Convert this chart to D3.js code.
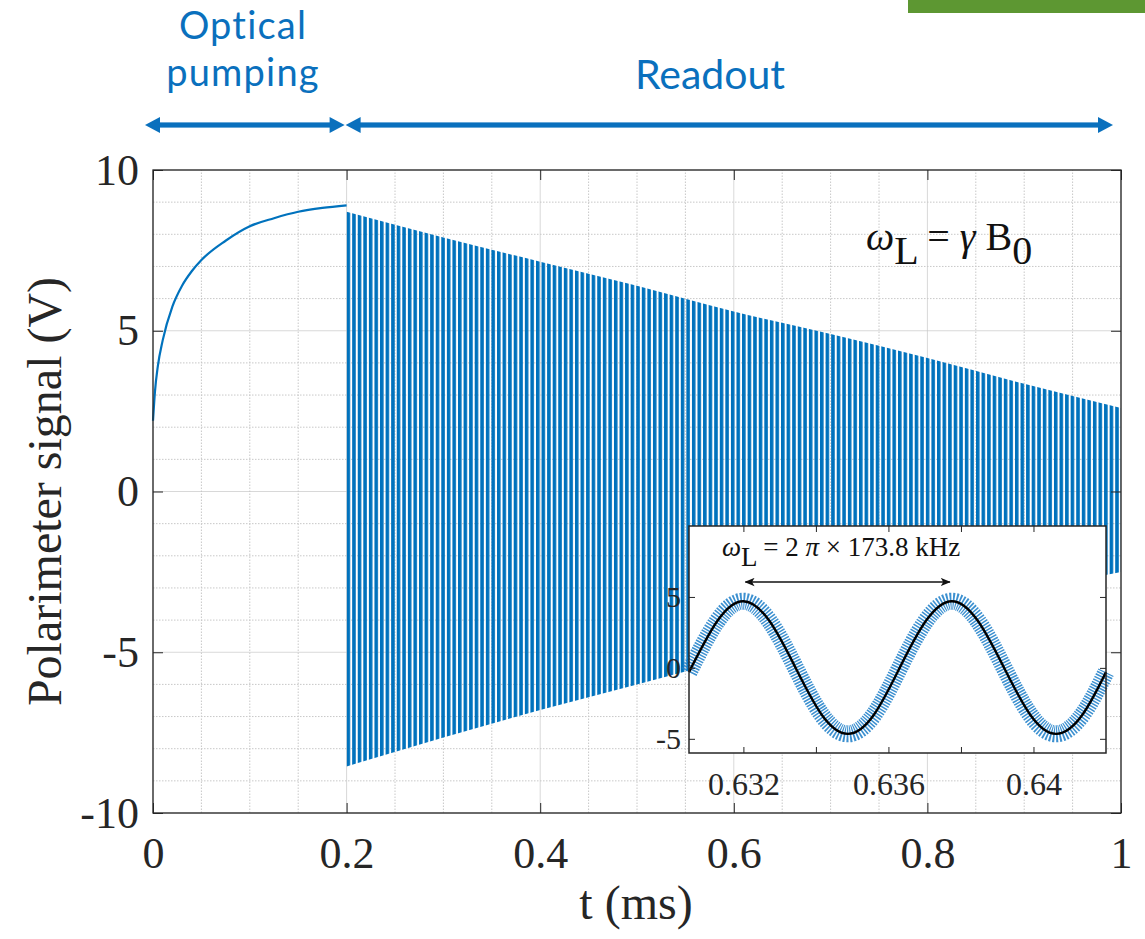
<!DOCTYPE html>
<html>
<head>
<meta charset="utf-8">
<script src="https://cdn.jsdelivr.net/npm/d3@7"></script>
<style>
  body { margin: 0; background: #fff; }
  svg { display: block; }
</style>
</head>
<body>
<div id="chart"></div>
<script>
// pumping phase
var pumpT = [0, 0.002, 0.005, 0.01, 0.02, 0.03, 0.04, 0.05, 0.075, 0.1, 0.125, 0.15, 0.175, 0.2];
var pumpV = [2.2, 3.1, 3.9, 4.7, 5.75, 6.4, 6.85, 7.2, 7.8, 8.25, 8.5, 8.7, 8.82, 8.9];

// readout phase: upper / lower envelope of the precession signal
var readT = [0.2, 0.3, 0.4, 0.5, 0.6, 0.7, 0.8, 0.9, 1.0];
var readTop = [8.7, 7.9, 7.15, 6.4, 5.6, 4.9, 4.15, 3.35, 2.6];
var readBottom = [-8.55, -7.65, -6.8, -6.0, -5.2, -4.5, -3.8, -3.1, -2.5];
var larmorKHz = 173.8;

var xTicks = [0, 0.2, 0.4, 0.6, 0.8, 1];
var yTicks = [-10, -5, 0, 5, 10];

// inset: zoom on two periods, fit curve through the samples
var insetT = [0.6305, 0.63128, 0.632, 0.63272, 0.63344, 0.63416, 0.63488, 0.6356, 0.63631,
              0.63703, 0.63775, 0.63847, 0.63919, 0.63991, 0.64063, 0.64135, 0.642];
var insetV = [-0.3, 3.3, 4.7, 3.3, 0, -3.3, -4.65, -3.3, 0,
              3.3, 4.7, 3.3, 0, -3.3, -4.65, -3.3, -0.3];
var insetXTicks = [0.632, 0.634, 0.636, 0.638, 0.64];
var insetXLabels = [0.632, 0.636, 0.64];
var insetYTicks = [-5, 0, 5];
var insetPeaks = [0.632, 0.63775];

var W = 1145, H = 939;
var blue = "#0072BD", annBlue = "#0a70bd", ink = "#262626";
var serif = "'Liberation Serif', 'Times New Roman', serif";
var hyphen = d => String(d).replace("\u2212", "-");

var svg = d3.select("#chart").append("svg")
    .attr("width", W).attr("height", H)
    .attr("font-family", serif);

// green strip top right
svg.append("rect").attr("x", 908).attr("y", 0).attr("width", 237).attr("height", 13)
    .attr("fill", "#5d9732");

var margin = { top: 170, right: 24, bottom: 126, left: 153 };
var x = d3.scaleLinear().domain([0, 1]).range([margin.left, W - margin.right]);
var y = d3.scaleLinear().domain([-10, 10]).range([H - margin.bottom, margin.top]);

// grid
var grid = svg.append("g");
grid.selectAll(".gx").data(x.ticks(20)).enter().append("line")
    .attr("x1", d => x(d)).attr("x2", d => x(d))
    .attr("y1", y(-10)).attr("y2", y(10))
    .attr("stroke", "#c8c8c8").attr("stroke-width", 1)
    .attr("stroke-dasharray", d => xTicks.indexOf(+d.toFixed(2)) >= 0 ? null : "1.5,1.5")
    .attr("stroke-opacity", d => xTicks.indexOf(+d.toFixed(2)) >= 0 ? 0.7 : 1);
grid.selectAll(".gy").data(y.ticks(20)).enter().append("line")
    .attr("y1", d => y(d)).attr("y2", d => y(d))
    .attr("x1", x(0)).attr("x2", x(1))
    .attr("stroke", "#c8c8c8").attr("stroke-width", 1)
    .attr("stroke-dasharray", d => yTicks.indexOf(d) >= 0 ? null : "1.5,1.5")
    .attr("stroke-opacity", d => yTicks.indexOf(d) >= 0 ? 0.7 : 1);

// oscillation: envelope area filled by vertical stripes, one per Larmor period
var periodPx = x(0.2 + 1 / larmorKHz) - x(0.2);
var defs = svg.append("defs");
var pat = defs.append("pattern").attr("id", "osc")
    .attr("patternUnits", "userSpaceOnUse")
    .attr("x", x(0.2)).attr("y", 0)
    .attr("width", periodPx).attr("height", H);
pat.append("rect").attr("x", 0).attr("y", 0)
    .attr("width", periodPx * 0.64).attr("height", H).attr("fill", blue);

var readout = readT.map((t, i) => ({ t: t, hi: readTop[i], lo: readBottom[i] }));
svg.append("path").datum(readout)
    .attr("d", d3.area().x(d => x(d.t)).y0(d => y(d.lo)).y1(d => y(d.hi)).curve(d3.curveMonotoneX))
    .attr("fill", "url(#osc)");

var pump = pumpT.map((t, i) => ({ t: t, v: pumpV[i] }));
svg.append("path").datum(pump)
    .attr("d", d3.line().x(d => x(d.t)).y(d => y(d.v)).curve(d3.curveMonotoneX))
    .attr("fill", "none").attr("stroke", blue).attr("stroke-width", 2.2);

// axes, ticks pointing inward
function styleAxis(g) {
    g.select(".domain").remove();
    g.selectAll(".tick line").attr("stroke", ink);
    g.selectAll(".tick text").attr("fill", ink);
}
svg.append("g").attr("transform", "translate(0," + y(-10) + ")")
    .call(d3.axisBottom(x).tickValues(xTicks).tickSizeInner(-10).tickSizeOuter(0).tickPadding(24)
        .tickFormat(d => d === 0 || d === 1 ? d : d3.format(".1f")(d)))
    .call(styleAxis)
    .selectAll(".tick text").attr("font-size", 44).attr("font-family", serif);
svg.append("g").attr("transform", "translate(0," + y(10) + ")")
    .call(d3.axisTop(x).tickValues(xTicks).tickSizeInner(-10).tickSizeOuter(0).tickFormat(""))
    .call(styleAxis);
svg.append("g").attr("transform", "translate(" + x(0) + ",0)")
    .call(d3.axisLeft(y).tickValues(yTicks).tickSizeInner(-10).tickSizeOuter(0).tickPadding(14)
        .tickFormat(hyphen))
    .call(styleAxis)
    .selectAll(".tick text").attr("font-size", 44).attr("font-family", serif);
svg.append("g").attr("transform", "translate(" + x(1) + ",0)")
    .call(d3.axisRight(y).tickValues(yTicks).tickSizeInner(-10).tickSizeOuter(0).tickFormat(""))
    .call(styleAxis);

svg.append("rect").attr("x", x(0)).attr("y", y(10))
    .attr("width", x(1) - x(0)).attr("height", y(-10) - y(10))
    .attr("fill", "none").attr("stroke", ink).attr("stroke-width", 1.3);

// axis titles
svg.append("text").attr("x", 636).attr("y", 919).attr("text-anchor", "middle")
    .attr("font-size", 48).attr("fill", ink).text("t (ms)");
svg.append("text").attr("transform", "translate(61," + y(0) + ") rotate(-90)")
    .attr("text-anchor", "middle").attr("font-size", 48).attr("fill", ink)
    .text("Polarimeter signal (V)");

// omega_L = gamma B0
var eq = svg.append("text").attr("x", 866).attr("y", 250).attr("font-size", 40).attr("fill", "#111");
eq.append("tspan").attr("font-style", "italic").text("ω");
eq.append("tspan").attr("dy", 14).text("L");
eq.append("tspan").attr("dy", -14).text(" = ");
eq.append("tspan").attr("font-style", "italic").text("γ");
eq.append("tspan").text(" B");
eq.append("tspan").attr("dy", 14).text("0");

// phase annotations above the plot: double-headed arrows
var arrowY = 125, headL = 15, headH = 8;
function dblArrow(x0, x1) {
    var g = svg.append("g").attr("fill", annBlue);
    g.append("rect").attr("x", x0 + headL - 2).attr("y", arrowY - 2.6)
        .attr("width", x1 - x0 - 2 * headL + 4).attr("height", 5.2);
    g.append("path").attr("d", "M" + x0 + "," + arrowY + " L" + (x0 + headL) + "," + (arrowY - headH)
        + " L" + (x0 + headL) + "," + (arrowY + headH) + " Z");
    g.append("path").attr("d", "M" + x1 + "," + arrowY + " L" + (x1 - headL) + "," + (arrowY - headH)
        + " L" + (x1 - headL) + "," + (arrowY + headH) + " Z");
}
dblArrow(x(0) - 8, x(0.2) - 2);
dblArrow(x(0.2) - 1, x(1) - 8);

var sans = "Lato, 'Open Sans', sans-serif";
svg.append("text").attr("x", 243).attr("y", 39).attr("text-anchor", "middle")
    .attr("font-family", sans).attr("font-size", 38).attr("letter-spacing", 1.2)
    .attr("fill", annBlue).text("Optical");
svg.append("text").attr("x", 243).attr("y", 86).attr("text-anchor", "middle")
    .attr("font-family", sans).attr("font-size", 38).attr("letter-spacing", 1.2)
    .attr("fill", annBlue).text("pumping");
svg.append("text").attr("x", 710).attr("y", 89).attr("text-anchor", "middle")
    .attr("font-family", sans).attr("font-size", 41).attr("fill", annBlue).text("Readout");

// ---- inset ----
var ix = d3.scaleLinear().domain([0.6305, 0.642]).range([689, 1106]);
var iy = d3.scaleLinear().domain([-6, 10]).range([753, 526]);

svg.append("rect").attr("x", ix(0.6305)).attr("y", iy(10))
    .attr("width", ix(0.642) - ix(0.6305)).attr("height", iy(-6) - iy(10))
    .attr("fill", "#fff");

var inset = insetT.map((t, i) => ({ t: t, v: insetV[i] }));
var iline = d3.line().x(d => ix(d.t)).y(d => iy(d.v)).curve(d3.curveNatural);
// dense x-markers rendered as a hatched band
svg.append("path").datum(inset).attr("d", iline)
    .attr("fill", "none").attr("stroke", "#1a7cc8").attr("stroke-width", 17)
    .attr("stroke-dasharray", "1.5,1.3").attr("stroke-opacity", 0.85);
svg.append("path").datum(inset).attr("d", iline)
    .attr("fill", "none").attr("stroke", "#000").attr("stroke-width", 2.4);

svg.append("g").attr("transform", "translate(0," + iy(-6) + ")")
    .call(d3.axisBottom(ix).tickValues(insetXTicks).tickSizeInner(-6).tickSizeOuter(0).tickPadding(19)
        .tickFormat(d => insetXLabels.indexOf(d) >= 0 ? d3.format("")(d) : ""))
    .call(styleAxis)
    .selectAll(".tick text").attr("font-size", 32).attr("font-family", serif);
svg.append("g").attr("transform", "translate(0," + iy(10) + ")")
    .call(d3.axisTop(ix).tickValues(insetXTicks).tickSizeInner(-6).tickSizeOuter(0).tickFormat(""))
    .call(styleAxis);
svg.append("g").attr("transform", "translate(" + ix(0.6305) + ",0)")
    .call(d3.axisLeft(iy).tickValues(insetYTicks).tickSizeInner(-6).tickSizeOuter(0).tickPadding(8)
        .tickFormat(hyphen))
    .call(styleAxis)
    .selectAll(".tick text").attr("font-size", 30).attr("font-family", serif);
svg.append("g").attr("transform", "translate(" + ix(0.642) + ",0)")
    .call(d3.axisRight(iy).tickValues(insetYTicks).tickSizeInner(-6).tickSizeOuter(0).tickFormat(""))
    .call(styleAxis);
svg.append("rect").attr("x", ix(0.6305)).attr("y", iy(10))
    .attr("width", ix(0.642) - ix(0.6305)).attr("height", iy(-6) - iy(10))
    .attr("fill", "none").attr("stroke", ink).attr("stroke-width", 1.5);

// period annotation
defs.append("marker").attr("id", "khead").attr("viewBox", "0 0 12 10")
    .attr("refX", 11).attr("refY", 5).attr("markerWidth", 10).attr("markerHeight", 9)
    .attr("orient", "auto-start-reverse").attr("markerUnits", "userSpaceOnUse")
    .append("path").attr("d", "M0,0 L12,5 L0,10 L3,5 z").attr("fill", "#111");
svg.append("line").attr("x1", ix(insetPeaks[0]) + 2).attr("x2", ix(insetPeaks[1]) - 2)
    .attr("y1", 582).attr("y2", 582).attr("stroke", "#111").attr("stroke-width", 1.4)
    .attr("marker-start", "url(#khead)").attr("marker-end", "url(#khead)");
var eq2 = svg.append("text").attr("x", 722).attr("y", 556).attr("font-size", 27).attr("fill", "#111");
eq2.append("tspan").attr("font-style", "italic").text("ω");
eq2.append("tspan").attr("dy", 10).text("L");
eq2.append("tspan").attr("dy", -10).text(" = 2 ");
eq2.append("tspan").attr("font-style", "italic").text("π");
eq2.append("tspan").text(" × " + larmorKHz + " kHz");
</script>
</body>
</html>
